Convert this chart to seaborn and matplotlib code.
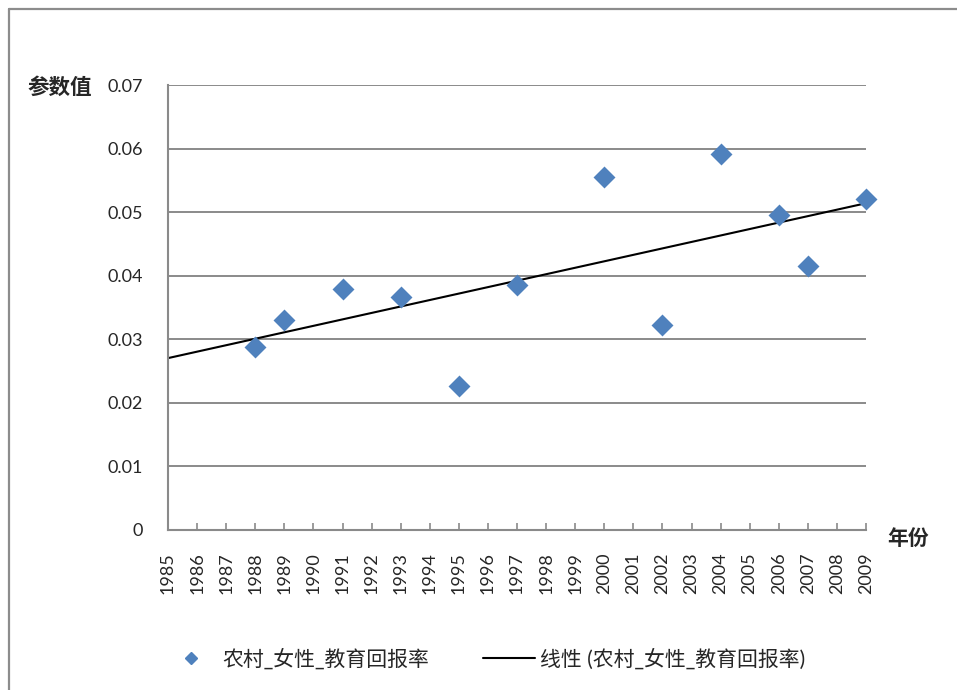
import numpy as np
import pandas as pd
import matplotlib
matplotlib.use("Agg")
import matplotlib.pyplot as plt
from matplotlib.lines import Line2D
import seaborn as sns

# Estimated returns to education, rural women
years = [1988, 1989, 1991, 1993, 1995, 1997, 2000, 2002, 2004, 2006, 2007, 2009]
returns = [0.0288, 0.0331, 0.0379, 0.0367, 0.0226, 0.0386,
           0.0556, 0.0323, 0.0592, 0.0495, 0.0415, 0.0521]
year_ticks = list(range(1985, 2010))
y_ticks = [0, 0.01, 0.02, 0.03, 0.04, 0.05, 0.06, 0.07]
y_tick_labels = ["0", "0.01", "0.02", "0.03", "0.04", "0.05", "0.06", "0.07"]
series_name = "农村_女性_教育回报率"
trend_name = "线性 (农村_女性_教育回报率)"

sns.set_theme(style="white")
plt.rcParams["font.family"] = ["Lato", "Noto Sans CJK SC", "DejaVu Sans"]

df = pd.DataFrame({"year": years, "value": returns})

# Linear trend fitted to the series, drawn across the full year span
slope, intercept = np.polyfit(df["year"], df["value"], 1)
trend = pd.DataFrame({"year": [year_ticks[0], year_ticks[-1]]})
trend["value"] = slope * trend["year"] + intercept

fig = plt.figure(figsize=(9.57, 6.9), dpi=100)
ax = fig.add_axes([168 / 957, 1 - 530 / 690, (866 - 168) / 957, (530 - 85) / 690])

grid_color = "#8a8a8a"
for yv in y_ticks[1:]:
    ax.axhline(yv, color=grid_color, lw=1.4, zorder=0)

sns.lineplot(data=trend, x="year", y="value", ax=ax, color="black", lw=1.5,
             zorder=2, legend=False)
sns.scatterplot(data=df, x="year", y="value", ax=ax, marker="D", s=125,
                color="#4F81BD", linewidth=0, zorder=3, clip_on=False,
                legend=False)

ax.set_xlim(year_ticks[0], year_ticks[-1])
ax.set_ylim(0, 0.07)
ax.set_xticks(year_ticks)
ax.set_xticklabels([str(y) for y in year_ticks], rotation=90, fontsize=13)
ax.set_yticks(y_ticks)
ax.set_yticklabels(y_tick_labels, fontsize=13)
ax.set_xlabel("")
ax.set_ylabel("")
ax.tick_params(axis="x", direction="in", length=5, width=1.2, color=grid_color,
               pad=16, bottom=True)
ax.tick_params(axis="y", length=0, pad=18)

for side in ["top", "right"]:
    ax.spines[side].set_visible(False)
for side in ["left", "bottom"]:
    ax.spines[side].set_color(grid_color)
    ax.spines[side].set_linewidth(1.5)

fig.text(28 / 957, 1 - 87 / 690, "参数值", fontsize=15.5, fontweight="bold",
         family=["Noto Sans CJK SC"], ha="left", va="center")
fig.text(887 / 957, 1 - 538 / 690, "年份", fontsize=15, fontweight="bold",
         family=["Noto Sans CJK SC"], ha="left", va="center")

# Legend: marker entry and trendline entry
legend_size = 15
marker_handle = Line2D([], [], marker="D", color="#4F81BD", linestyle="none",
                       markersize=6)
line_handle = Line2D([], [], color="black", lw=1.5)
fig.legend([marker_handle], [series_name], loc="center left",
           bbox_to_anchor=(181 / 957, 1 - 659 / 690), frameon=False,
           fontsize=legend_size, handlelength=1.0, handletextpad=1.0,
           borderpad=0, borderaxespad=0)
fig.legend([line_handle], [trend_name], loc="center left",
           bbox_to_anchor=(483 / 957, 1 - 659 / 690), frameon=False,
           fontsize=legend_size, handlelength=2.5, handletextpad=0.25,
           borderpad=0, borderaxespad=0)

# Chart area frame
frame_color = "#8c8c8c"
fig.add_artist(Line2D([9 / 957, 9 / 957], [0, 1 - 9 / 690], color=frame_color,
                      lw=1.6, transform=fig.transFigure))
fig.add_artist(Line2D([9 / 957, 1], [1 - 9 / 690, 1 - 9 / 690], color=frame_color,
                      lw=1.6, transform=fig.transFigure))

fig.savefig("out.png", dpi=100)
